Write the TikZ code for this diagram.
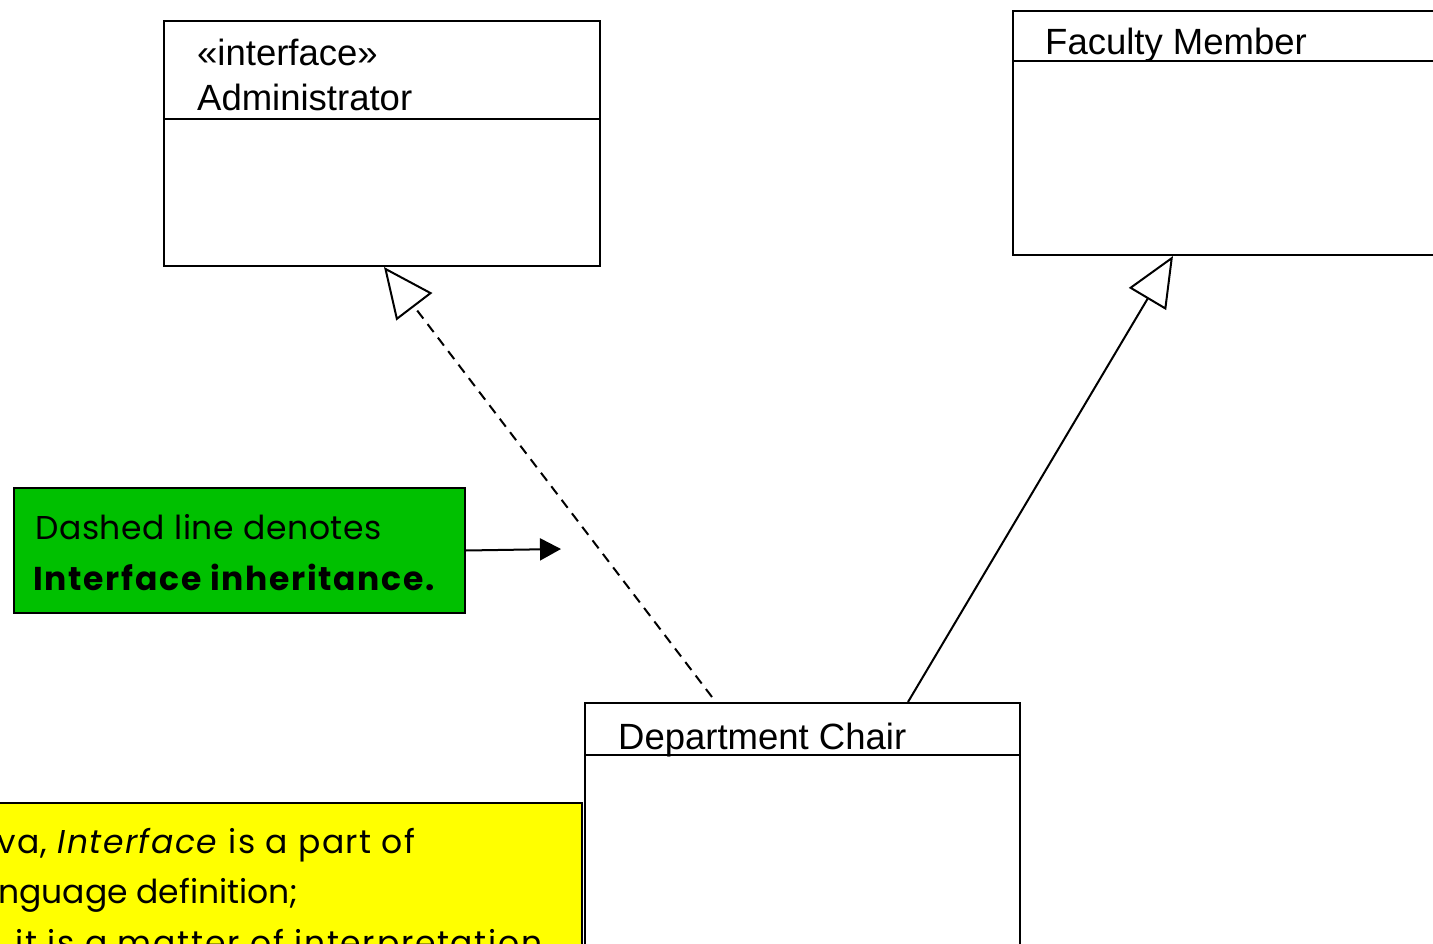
\documentclass[tikz,border=0pt]{standalone}
\usepackage{fontspec}
\setmainfont{Liberation Sans}
\newfontfamily\notefont{Poppins}
\usetikzlibrary{arrows.meta,calc}
\definecolor{notegreen}{RGB}{0,192,0}
\definecolor{noteyellow}{RGB}{255,255,0}
\newcommand{\track}[1]{\addfontfeature{LetterSpace=#1}}
\begin{document}
\begin{tikzpicture}[x=1pt,y=-1pt,
  classbox/.style={draw, line width=2pt, fill=white, inner sep=0pt, anchor=north west},
  classname/.style={anchor=base west, inner sep=0pt, font=\fontsize{36.5}{40}\selectfont},
  notebox/.style={draw, line width=2pt, inner sep=0pt, anchor=north west},
  notetext/.style={anchor=base west, inner sep=0pt, font=\notefont\fontsize{33}{40}\selectfont},
  divider/.style={line width=2pt},
  realizes/.style={line width=2pt, dash pattern=on 10pt off 7pt,
    -{Triangle[open, length=50pt, width=45pt]}},
  generalizes/.style={line width=2pt, -{Triangle[open, length=50pt, width=43pt]}},
  pointer/.style={line width=2pt, -{Triangle[length=21pt, width=22pt]}}
]
\useasboundingbox (0,0) rectangle (1433,944);
\clip (0,0) rectangle (1433,944);

% class boxes
\node[classbox, minimum width=436pt, minimum height=245pt] (admin) at (163,20) {};
\draw[divider] ($(admin.north west)+(0,99)$) -- ($(admin.north east)+(0,99)$);
\node[classname] (adminstereo) at (197,66) {«interface»};
\node[classname] (adminname) at (197,111) {Administrator};

\node[classbox, minimum width=460pt, minimum height=244pt] (faculty) at (1012,10) {};
\draw[divider] ($(faculty.north west)+(0,51)$) -- ($(faculty.north east)+(0,51)$);
\node[classname] (facultyname) at (1045,55) {Faculty Member};

\node[classbox, minimum width=435pt, minimum height=300pt] (chair) at (584,702) {};
\draw[divider] ($(chair.north west)+(0,53)$) -- ($(chair.north east)+(0,53)$);
\node[classname] (chairname) at (618,749) {Department Chair};

% notes
\node[notebox, fill=notegreen, minimum width=451pt, minimum height=125pt] (green) at (13,487) {};
\node[notetext] (greenline1) at (35,539) {\track{1.8}Dashed line denotes};
\node[notetext, font=\notefont\bfseries\fontsize{33}{40}\selectfont] (greenline2) at (33,590) {\track{5.2}Interface inheritance.};

\node[notebox, fill=noteyellow, minimum width=601pt, minimum height=200pt] (yellow) at (-20,802) {};
\node[notetext] (yellowline1) at (-3,853) {\track{4.4}va, \textit{Interface} is a part of};
\node[notetext] (yellowline2) at (-2,903) {nguage definition;};
\node[notetext] (yellowline3) at (15,954) {\track{5.2}it is a matter of interpretation};

% connectors
\draw[realizes] ($(chair.north west)+(128,-5)$) -- ($(admin.south west)+(221,0)$);
\draw[generalizes] ($(chair.north west)+(324,0)$) -- ($(faculty.south west)+(161,0)$);
\coordinate (dashtarget) at (561,549);
\draw[pointer] (green.east) -- (dashtarget);
\end{tikzpicture}
\end{document}
